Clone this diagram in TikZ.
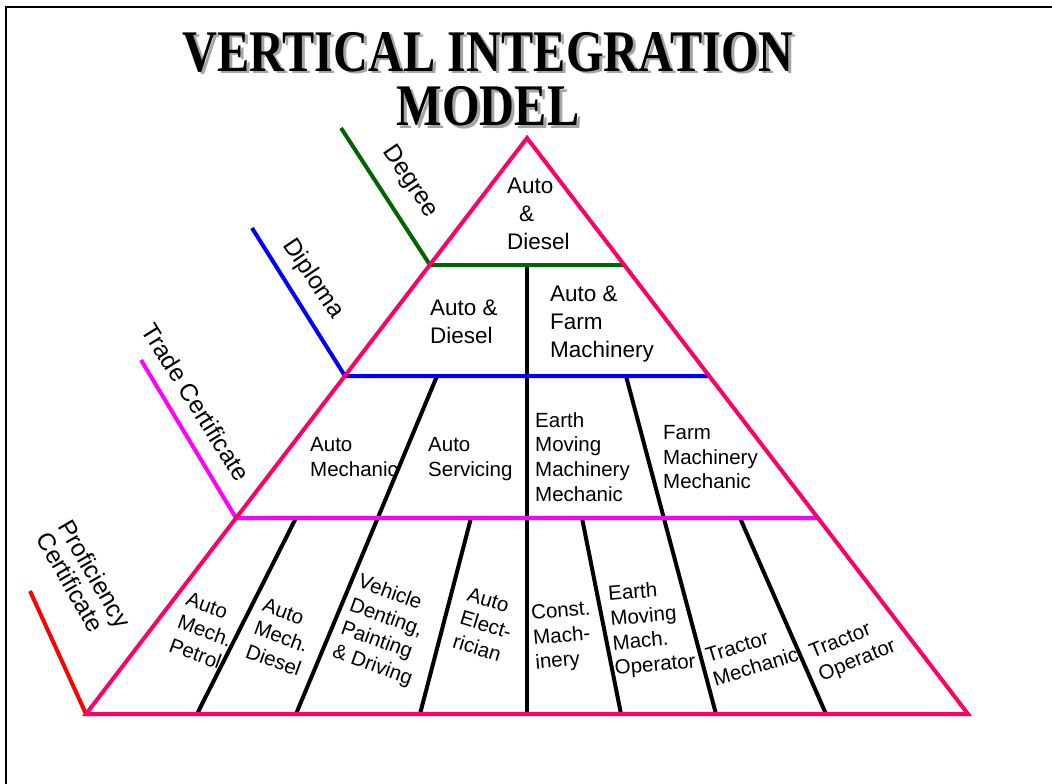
\documentclass[tikz,border=0pt]{standalone}
\usepackage{fontspec}
\usepackage{graphicx}
\setmainfont{Liberation Sans}
\newfontfamily\titlefont{Liberation Serif}
\definecolor{rim}{RGB}{255,0,102}
\definecolor{degreegreen}{RGB}{0,100,0}
\definecolor{tradepink}{RGB}{255,0,255}
\definecolor{titleshade}{RGB}{165,165,165}

\begin{document}
\begin{tikzpicture}[line cap=butt,line join=miter,x=1pt,y=-1pt,
  titletxt/.style={font=\titlefont\bfseries\fontsize{59}{54}\selectfont,inner sep=0pt,anchor=base},
  sidelbl/.style={font=\fontsize{24.5}{25}\selectfont,inner sep=0pt,align=left},
  toplbl/.style={font=\fontsize{22.5}{28}\selectfont,inner sep=0pt,align=left,anchor=north west},
  lbl/.style={font=\fontsize{20.5}{24.7}\selectfont,inner sep=0pt,align=left},
  tier/.style={line width=4pt}]
\useasboundingbox (0,0) rectangle (1052,784);
% frame
\draw[line width=2.5pt] (6,784) -- (6,7) -- (1052,7);
% title
\node[titletxt,text=titleshade] (t1s) at (491,74) {\scalebox{0.82}[1]{VERTICAL INTEGRATION}};
\node[titletxt,text=titleshade] (t2s) at (491,128) {\scalebox{0.82}[1]{MODEL}};
\node[titletxt] (t1) at (488,71) {\scalebox{0.82}[1]{VERTICAL INTEGRATION}};
\node[titletxt] (t2) at (488,125) {\scalebox{0.82}[1]{MODEL}};
% dividers
\draw[tier] (527,265) -- (527,714);
\draw[tier] (437,376) -- (296,714);
\draw[tier] (626,376) -- (716,714);
\draw[tier] (296,518) -- (197,714);
\draw[tier] (471,518) -- (420,714);
\draw[tier] (582,518) -- (621,714);
\draw[tier] (740,518) -- (826,714);
% levels
\draw[tier,degreegreen] (341,128) -- (430,265) -- (624,265);
\draw[tier,blue] (252,228) -- (345,376) -- (709,376);
\draw[tier,tradepink] (141,360) -- (236,518) -- (818,518);
\draw[tier,red] (30,591) -- (86,714);
% pyramid
\draw[tier,rim] (527,138) -- (86,714) -- (968,714) -- cycle;
% level names
\node[sidelbl,rotate=-56] (deg) at (410,182) {Degree};
\node[sidelbl,rotate=-56] (dip) at (313,279) {Diploma};
\node[sidelbl,rotate=-58] (trd) at (196,402) {Trade Certificate};
\node[sidelbl,rotate=-60] (prf) at (84,580) {Proficiency\\Certificate};
% courses
\node[toplbl] (deg1) at (507,178) {Auto\\\hspace*{12pt}\&\\Diesel};
\node[toplbl] (dip1) at (430,300) {Auto \&\\Diesel};
\node[toplbl] (dip2) at (550,285.5) {Auto \&\\Farm\\Machinery};
\node[lbl,anchor=north west] (trd1) at (310,437) {Auto\\Mechanic};
\node[lbl,anchor=north west] (trd2) at (428,437) {Auto\\Servicing};
\node[lbl,anchor=north west] (trd3) at (535,412) {Earth\\Moving\\Machinery\\Mechanic};
\node[lbl,anchor=north west] (trd4) at (663,425) {Farm\\Machinery\\Mechanic};
\node[lbl,rotate=-20] (prf1) at (205,631) {Auto\\Mech.\\Petrol};
\node[lbl,rotate=-20] (prf2) at (282,637) {Auto\\Mech.\\Diesel};
\node[lbl,rotate=-20] (prf3) at (385,631) {Vehicle\\Denting,\\Painting\\\& Driving};
\node[lbl,rotate=-17] (prf4) at (486,625) {Auto\\Elect-\\rician};
\node[lbl,rotate=5] (prf5) at (563,637) {Const.\\Mach-\\inery};
\node[lbl,rotate=5] (prf6) at (652,629) {Earth\\Moving\\Mach.\\Operator};
\node[lbl,rotate=17] (prf7) at (752,655) {Tractor\\Mechanic};
\node[lbl,rotate=22] (prf8) at (853,650) {Tractor\\Operator};
\end{tikzpicture}
\end{document}
